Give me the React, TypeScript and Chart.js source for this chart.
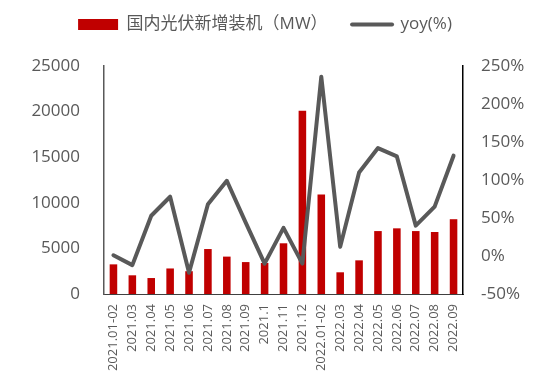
import React, { useEffect, useRef } from "react";
import { Chart, registerables } from "chart.js";

Chart.register(...registerables);

const categories: string[] = [
  "2021.01-02", "2021.03", "2021.04", "2021.05", "2021.06", "2021.07", "2021.08",
  "2021.09", "2021.1", "2021.11", "2021.12", "2022.01-02", "2022.03", "2022.04",
  "2022.05", "2022.06", "2022.07", "2022.08", "2022.09",
];
const installedMW: number[] = [
  3250, 2050, 1750, 2800, 2500, 4930, 4100, 3500, 3400, 5560, 20100, 10900,
  2380, 3690, 6900, 7200, 6900, 6800, 8200,
];
const yoyPct: number[] = [
  1, -12, 53, 78, -22, 68, 99, 44, -10, 37, -10, 236, 12, 110, 142, 131, 40, 65, 132,
];
const barLabel = "国内光伏新增装机（MW）";
const lineLabel = "yoy(%)";

const RED = "#C00000";
const GREY = "#595959";
const FONT = "'Open Sans', 'Noto Sans CJK SC', sans-serif";

export default function App() {
  const ref = useRef<HTMLCanvasElement | null>(null);

  useEffect(() => {
    document.body.style.margin = "0";
    const canvas = ref.current;
    if (!canvas) return;

    const layoutPlugin = {
      id: "layoutTweaks",
      beforeUpdate(chart: any) {
        const lg = chart.legend;
        if (lg && !lg.__patched) {
          lg.__patched = true;
          const origFit = lg.fit.bind(lg);
          lg.fit = function () {
            origFit();
            this.height = 66;
          };
          const origDraw = lg.draw.bind(lg);
          lg.draw = function () {
            const ctx = chart.ctx;
            ctx.save();
            ctx.translate(-12, 0);
            origDraw();
            ctx.restore();
          };
        }
      },
    };

    const chart = new Chart(canvas, {
      type: "bar",
      data: {
        labels: categories,
        datasets: [
          {
            type: "bar",
            label: barLabel,
            data: installedMW,
            backgroundColor: RED,
            borderWidth: 0,
            barPercentage: 0.4,
            categoryPercentage: 1,
            yAxisID: "y",
            order: 1,
          },
          {
            type: "line",
            label: lineLabel,
            data: yoyPct,
            borderColor: GREY,
            backgroundColor: GREY,
            borderWidth: 4,
            borderJoinStyle: "round",
            borderCapStyle: "round",
            pointRadius: 0,
            tension: 0,
            yAxisID: "y1",
            order: 0,
          } as any,
        ],
      },
      options: {
        responsive: true,
        maintainAspectRatio: false,
        animation: false,
        layout: { padding: 0 },
        plugins: {
          tooltip: { enabled: false },
          legend: {
            position: "top",
            labels: {
              usePointStyle: true,
              pointStyleWidth: 40,
              boxHeight: 11,
              padding: 16,
              color: GREY,
              font: { size: 17, family: FONT },
              generateLabels: () => [
                {
                  text: barLabel + "\u3000",
                  fillStyle: RED,
                  strokeStyle: RED,
                  lineWidth: 0,
                  pointStyle: "rect",
                  datasetIndex: 0,
                  fontColor: GREY,
                  hidden: false,
                } as any,
                {
                  text: lineLabel,
                  fillStyle: GREY,
                  strokeStyle: GREY,
                  lineWidth: 4,
                  lineCap: "round",
                  pointStyle: "line",
                  datasetIndex: 1,
                  fontColor: GREY,
                  hidden: false,
                } as any,
              ],
            },
          },
        },
        scales: {
          x: {
            offset: true,
            grid: { display: false, drawTicks: false },
            border: { display: true, color: "#404040", width: 1 },
            ticks: {
              autoSkip: false,
              maxRotation: 90,
              minRotation: 90,
              padding: 10,
              color: GREY,
              font: { size: 13, family: FONT },
            },
            afterFit: (s: any) => {
              s.height = 91;
            },
          },
          y: {
            position: "left",
            min: 0,
            max: 25000,
            grid: { display: false, drawTicks: false },
            border: { display: true, color: GREY, width: 1.5 },
            ticks: {
              stepSize: 5000,
              padding: 24,
              color: GREY,
              font: { size: 17, family: FONT },
              callback: (v: any) => String(v),
            },
            afterFit: (s: any) => {
              s.width = 104;
            },
          },
          y1: {
            position: "right",
            min: -50,
            max: 250,
            grid: { display: false, drawTicks: false },
            border: { display: true, color: "#000000", width: 1.5 },
            ticks: {
              stepSize: 50,
              padding: 18,
              color: GREY,
              font: { size: 17, family: FONT },
              callback: (v: any) => v + "%",
            },
            afterFit: (s: any) => {
              s.width = 91;
            },
          },
        },
      },
      plugins: [layoutPlugin],
    });

    return () => {
      chart.destroy();
    };
  }, []);

  return (
    <div style={{ position: "relative", width: 554, height: 385 }}>
      <canvas ref={ref} />
    </div>
  );
}
